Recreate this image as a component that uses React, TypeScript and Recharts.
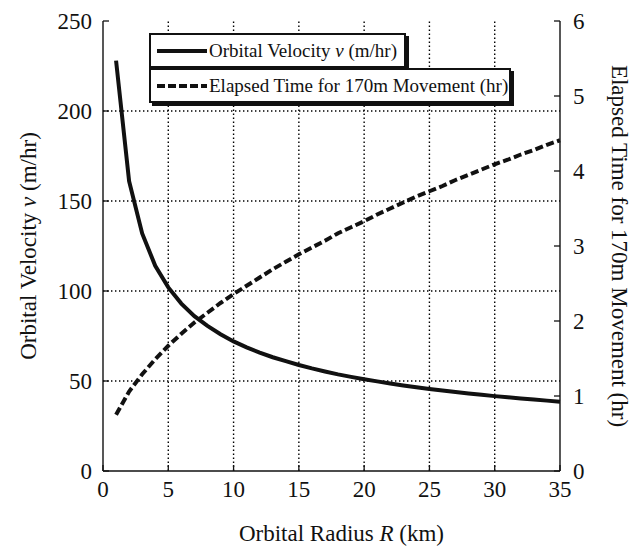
import { ComposedChart, Line, XAxis, YAxis, ReferenceLine, Legend } from "recharts";

const radius = [
  1, 2, 3, 4, 5, 6, 7, 8, 9, 10, 11, 12, 13, 14, 15, 16, 17, 18,
  19, 20, 21, 22, 23, 24, 25, 26, 27, 28, 29, 30, 31, 32, 33, 34, 35,
];
const velocity = [
  228, 161, 132, 114, 102, 93, 86, 80.6, 76, 72, 68.7, 65.8, 63.2, 61, 58.9, 57, 55.3, 53.7,
  52.3, 51, 49.8, 48.6, 47.5, 46.5, 45.6, 44.7, 43.9, 43.1, 42.3, 41.6, 41, 40.3, 39.7, 39.1, 38.5,
];
const elapsed = [
  0.75, 1.06, 1.29, 1.49, 1.67, 1.83, 1.98, 2.11, 2.24, 2.36, 2.47, 2.58, 2.69, 2.79, 2.89, 2.98, 3.07, 3.17,
  3.25, 3.33, 3.42, 3.5, 3.58, 3.66, 3.73, 3.8, 3.88, 3.95, 4.02, 4.09, 4.15, 4.22, 4.28, 4.35, 4.41,
];
const xTicks = [0, 5, 10, 15, 20, 25, 30, 35];
const leftTicks = [0, 50, 100, 150, 200, 250];
const rightTicks = [0, 1, 2, 3, 4, 5, 6];

const data = radius.map((r, i) => ({ r, v: velocity[i], t: elapsed[i] }));

const FONT = "'Liberation Serif', 'Times New Roman', serif";
const INK = "#111";
const TICK_LEN = 6;

// inward tick marks (MATLAB style), drawn together with the label
function BottomTick(props: any) {
  const { x, y, payload } = props;
  return (
    <g>
      <line x1={x} y1={y} x2={x} y2={y - TICK_LEN} stroke={INK} strokeWidth={1.3} />
      <text x={x} y={y + 26} textAnchor="middle" fontSize={23} fontFamily={FONT} fill={INK}>
        {payload.value}
      </text>
    </g>
  );
}

function TopTick(props: any) {
  const { x, y } = props;
  return <line x1={x} y1={y} x2={x} y2={y + TICK_LEN} stroke={INK} strokeWidth={1.3} />;
}

function LeftTick(props: any) {
  const { x, y, payload } = props;
  return (
    <g>
      <line x1={x} y1={y} x2={x + TICK_LEN} y2={y} stroke={INK} strokeWidth={1.3} />
      <text x={x - 11} y={y + 8} textAnchor="end" fontSize={23} fontFamily={FONT} fill={INK}>
        {payload.value}
      </text>
    </g>
  );
}

function RightTick(props: any) {
  const { x, y, payload } = props;
  return (
    <g>
      <line x1={x} y1={y} x2={x - TICK_LEN} y2={y} stroke={INK} strokeWidth={1.3} />
      <text x={x + 13} y={y + 8} textAnchor="start" fontSize={23} fontFamily={FONT} fill={INK}>
        {payload.value}
      </text>
    </g>
  );
}

function XTitle(props: any) {
  const { x, y, width, height } = props.viewBox;
  return (
    <text x={x + width / 2 + 10} y={y + height - 8} textAnchor="middle" fontSize={23} fontFamily={FONT} fill={INK}>
      Orbital Radius <tspan fontStyle="italic">R</tspan> (km)
    </text>
  );
}

function LeftTitle(props: any) {
  const { y, height } = props.viewBox;
  const cx = 36;
  const cy = y + height / 2;
  return (
    <text x={cx} y={cy} transform={`rotate(-90 ${cx} ${cy})`} textAnchor="middle" fontSize={23} fontFamily={FONT} fill={INK}>
      Orbital Velocity <tspan fontStyle="italic">v</tspan> (m/hr)
    </text>
  );
}

function RightTitle(props: any) {
  const { x, y, height } = props.viewBox;
  const cx = x + 52;
  const cy = y + height / 2;
  return (
    <text x={cx} y={cy} transform={`rotate(90 ${cx} ${cy})`} textAnchor="middle" fontSize={23} fontFamily={FONT} fill={INK}>
      Elapsed Time for 170m Movement (hr)
    </text>
  );
}

const boxStyle = {
  border: "2px solid #111",
  boxShadow: "3px 3px 0 #111",
  background: "#fff",
  height: 31,
  display: "flex",
  alignItems: "center",
  paddingLeft: 6,
  fontFamily: FONT,
  fontSize: 19,
  color: INK,
  boxSizing: "content-box" as const,
};

function LegendBox() {
  return (
    <div>
      <div style={{ ...boxStyle, width: 247 }}>
        <svg width={52} height={10}>
          <line x1={0} y1={5} x2={50} y2={5} stroke={INK} strokeWidth={4} />
        </svg>
        <span>
          Orbital Velocity <i>v</i> (m/hr)
        </span>
      </div>
      <div style={{ ...boxStyle, width: 352 }}>
        <svg width={52} height={10}>
          <line x1={0} y1={5} x2={50} y2={5} stroke={INK} strokeWidth={4} strokeDasharray="8 3" />
        </svg>
        <span>Elapsed Time for 170m Movement (hr)</span>
      </div>
    </div>
  );
}

const axisLine = { stroke: INK, strokeWidth: 1.4 };
const gridLine = { stroke: "#000", strokeWidth: 1.4, strokeDasharray: "1.4 2.6" };

export default function App() {
  return (
    <div style={{ position: "absolute", left: 0, top: 0, background: "#fff" }}>
      <ComposedChart width={631} height={549} data={data} margin={{ top: 21, right: 0, bottom: 0, left: 0 }}>
        <XAxis
          dataKey="r"
          type="number"
          domain={[0, 35]}
          ticks={xTicks}
          height={78}
          tick={<BottomTick />}
          tickLine={false}
          tickSize={0}
          tickMargin={0}
          axisLine={axisLine}
          label={XTitle}
        />
        <XAxis
          xAxisId="top"
          orientation="top"
          dataKey="r"
          type="number"
          domain={[0, 35]}
          ticks={xTicks}
          height={0}
          tick={<TopTick />}
          tickLine={false}
          tickSize={0}
          tickMargin={0}
          axisLine={axisLine}
        />
        <YAxis
          domain={[0, 250]}
          ticks={leftTicks}
          width={103}
          tick={<LeftTick />}
          tickLine={false}
          tickSize={0}
          tickMargin={0}
          axisLine={axisLine}
          label={LeftTitle}
        />
        <YAxis
          yAxisId="right"
          orientation="right"
          domain={[0, 6]}
          ticks={rightTicks}
          width={71}
          tick={<RightTick />}
          tickLine={false}
          tickSize={0}
          tickMargin={0}
          axisLine={axisLine}
          label={RightTitle}
        />
        {xTicks.slice(1, -1).map((v) => (
          <ReferenceLine key={`gx${v}`} x={v} {...gridLine} />
        ))}
        {leftTicks.slice(1, -1).map((v) => (
          <ReferenceLine key={`gy${v}`} y={v} {...gridLine} />
        ))}
        <Legend
          layout="horizontal"
          verticalAlign="middle"
          align="center"
          wrapperStyle={{ left: 149, top: 33, width: "auto" }}
          content={LegendBox}
        />
        <Line dataKey="v" stroke={INK} strokeWidth={4} dot={false} type="linear" isAnimationActive={false} />
        <Line
          yAxisId="right"
          dataKey="t"
          stroke={INK}
          strokeWidth={4}
          strokeDasharray="8 3.5"
          dot={false}
          type="linear"
          isAnimationActive={false}
        />
      </ComposedChart>
    </div>
  );
}
